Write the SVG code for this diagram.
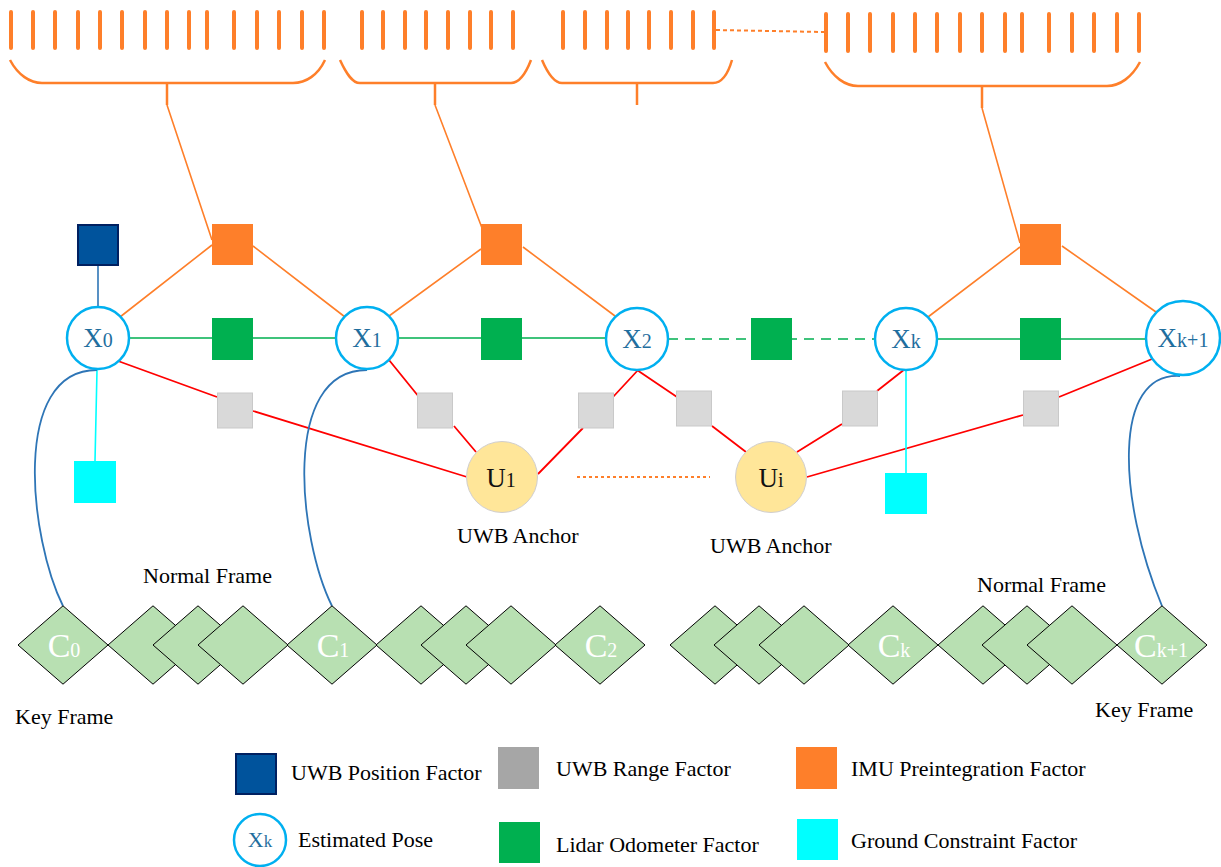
<svg xmlns="http://www.w3.org/2000/svg" width="1221" height="867" viewBox="0 0 1221 867">
<style>
.tick{fill:none;stroke:#FE7F2A;stroke-width:4;stroke-linecap:round}
.brace{fill:none;stroke:#FE7F2A;stroke-width:2.5}
.or{stroke:#FE7F2A;stroke-width:1.6;fill:none}
.rd{stroke:#FF0000;stroke-width:1.8;fill:none}
.gn{stroke:#00B050;stroke-width:1.6;fill:none}
.cy{stroke:#00FFFF;stroke-width:1.6;fill:none}
.bl{fill:none;stroke:#2E75B6;stroke-width:1.8}
.pose circle{fill:#fff;stroke:#00B0F0;stroke-width:2.5}
.pose text{font-family:"Liberation Serif","Times New Roman",serif;font-size:27px;fill:#1F6E9E;text-anchor:middle}
.sub{font-size:20px}
.anchor circle{fill:#FFE699;stroke:#D0CECE;stroke-width:1}
.anchor text{font-family:"Liberation Serif","Times New Roman",serif;font-size:27px;fill:#111;text-anchor:middle}
.imu{fill:#FE7F2A}
.lidar{fill:#00B050}
.range{fill:#D9D9D9;stroke:#C9C9C9;stroke-width:1}
.ground{fill:#00FFFF}
.pos{fill:#00539C;stroke:#002060;stroke-width:2}
.frame polygon{fill:#B8E0B2;stroke:#000;stroke-width:1}
.frame text{font-family:"Liberation Serif","Times New Roman",serif;font-size:34px;fill:#fff;text-anchor:middle}
.lbl{font-family:"Liberation Serif","Times New Roman",serif;font-size:22px;fill:#000}
</style>

<g id="imu-stream">
<path class="tick" d="M11,12V48M33,12V48M55,12V48M78,12V48M100,12V48M122,12V48M145,12V48M167,12V48M189,12V48M207,12V48M234,12V48M257,12V48M279,12V48M302,12V48M324,12V48"/>
<path class="tick" d="M362,12V48M383,12V48M405,12V48M426,12V48M448,12V48M470,12V48M491,12V48M513,12V48"/>
<path class="tick" d="M563,12V48M585,12V48M607,12V48M628,12V48M649,12V48M671,12V48M693,12V48M714,12V48"/>
<path class="tick" d="M826,14V51M848,14V51M870,14V51M893,14V51M915,14V51M937,14V51M960,14V51M982,14V51M1005,14V51M1022,14V51M1049,14V51M1072,14V51M1094,14V51M1117,14V51M1139,14V51"/>
<path d="M716,30L824,32" fill="none" stroke="#FE7F2A" stroke-width="2" stroke-dasharray="4 3"/>
<path class="brace" d="M10,60C18,75 30,83 42,83L293,83C306,83 318,75 325,60M167,83V105"/>
<path class="brace" d="M340,60C346,73 352,83 360,83L511,83C520,83 526,73 531,60M435,83V105"/>
<path class="brace" d="M542,60C548,74 554,83 562,83L713,83C722,83 728,74 732,60M637,83V105"/>
<path class="brace" d="M825,62C833,77 845,86 858,86L1107,86C1120,86 1132,77 1140,62M982,86V108"/>
</g>

<g id="connectors">
<path class="or" d="M167,105L212,240M120,317L212,245M253,246L345,317M435,105L482,228M389,316L481,249M523,247L615,316M928,317L1020,247M982,108L1020,243M1062,246L1156,312"/>
<path class="gn" d="M129,338H336M398,338H606"/>
<path class="gn" d="M668,339H875" stroke-dasharray="10 7"/>
<path class="gn" d="M937,339H1145"/>
<path class="rd" d="M118,361L217,397M253,411L467,477M389,360L419,397M454,426L476,452M538,474L583,428M613,397L639,369M637,370L677,397M712,426L746,452M797,452L842,424M877,391L905,369M807,477L1023,415M1059,397L1157,357"/>
<path d="M577,477H710" fill="none" stroke="#FE7F2A" stroke-width="2" stroke-dasharray="3 3"/>
<path class="cy" d="M97,370L95,461M906,370V473"/>
<path d="M98,265V307" stroke="#2E75B6" stroke-width="1.6"/>
<path class="bl" d="M97,370C10,370 30,540 63,606"/>
<path class="bl" d="M367,370C280,370 299,540 332,606"/>
<path class="bl" d="M1180,376C1112,372 1118,500 1162,606"/>
</g>

<g id="pos-factor"><rect class="pos" x="78" y="225" width="40" height="40"/></g>
<g id="imu-factor-1"><rect class="imu" x="212" y="224" width="41" height="41"/></g>
<g id="imu-factor-2"><rect class="imu" x="481" y="224" width="41" height="41"/></g>
<g id="imu-factor-3"><rect class="imu" x="1020" y="224" width="41" height="41"/></g>
<g id="lidar-factor-1"><rect class="lidar" x="212" y="318" width="41" height="42"/></g>
<g id="lidar-factor-2"><rect class="lidar" x="481" y="318" width="41" height="42"/></g>
<g id="lidar-factor-3"><rect class="lidar" x="751" y="318" width="41" height="42"/></g>
<g id="lidar-factor-4"><rect class="lidar" x="1020" y="318" width="41" height="42"/></g>
<g id="range-factor-1"><rect class="range" x="217.5" y="393" width="35" height="35"/></g>
<g id="range-factor-2"><rect class="range" x="417.5" y="393" width="35" height="35"/></g>
<g id="range-factor-3"><rect class="range" x="578.5" y="393" width="35" height="35"/></g>
<g id="range-factor-4"><rect class="range" x="676.5" y="391" width="35" height="35"/></g>
<g id="range-factor-5"><rect class="range" x="842.5" y="391" width="35" height="35"/></g>
<g id="range-factor-6"><rect class="range" x="1023.5" y="391" width="35" height="35"/></g>
<g id="ground-factor-1"><rect class="ground" x="74" y="461" width="42" height="42"/></g>
<g id="ground-factor-2"><rect class="ground" x="885" y="473" width="42" height="41"/></g>

<g id="pose-x0" class="pose"><circle cx="98" cy="338" r="31"/><text x="98" y="347">X<tspan class="sub">0</tspan></text></g>
<g id="pose-x1" class="pose"><circle cx="367" cy="338" r="31"/><text x="367" y="347">X<tspan class="sub">1</tspan></text></g>
<g id="pose-x2" class="pose"><circle cx="637" cy="339" r="31"/><text x="637" y="348">X<tspan class="sub">2</tspan></text></g>
<g id="pose-xk" class="pose"><circle cx="906" cy="339" r="31"/><text x="906" y="348">X<tspan class="sub">k</tspan></text></g>
<g id="pose-xk1" class="pose"><circle cx="1183" cy="338" r="37"/><text x="1183" y="347">X<tspan class="sub">k+1</tspan></text></g>

<g id="anchor-u1" class="anchor"><circle cx="502" cy="477" r="35.5"/><text x="501" y="487">U<tspan class="sub">1</tspan></text></g>
<g id="anchor-ui" class="anchor"><circle cx="771" cy="477" r="35.5"/><text x="771" y="487">U<tspan class="sub">i</tspan></text></g>

<g id="frames" class="frame">
<g id="frame-c0"><polygon points="18,645 63,605.8 108,645 63,684.2"/><text x="64" y="657">C<tspan class="sub">0</tspan></text></g>
<g id="frame-n1"><polygon points="108,645 153,605.8 198,645 153,684.2"/></g>
<g id="frame-n2"><polygon points="153,645 198,605.8 243,645 198,684.2"/></g>
<g id="frame-n3"><polygon points="198,645 243,605.8 288,645 243,684.2"/></g>
<g id="frame-c1"><polygon points="287,645 332,605.8 377,645 332,684.2"/><text x="333" y="657">C<tspan class="sub">1</tspan></text></g>
<g id="frame-n4"><polygon points="376,645 421,605.8 466,645 421,684.2"/></g>
<g id="frame-n5"><polygon points="421,645 466,605.8 511,645 466,684.2"/></g>
<g id="frame-n6"><polygon points="466,645 511,605.8 556,645 511,684.2"/></g>
<g id="frame-c2"><polygon points="555,645 600,605.8 645,645 600,684.2"/><text x="601" y="657">C<tspan class="sub">2</tspan></text></g>
<g id="frame-n7"><polygon points="670,645 715,605.8 760,645 715,684.2"/></g>
<g id="frame-n8"><polygon points="714,645 759,605.8 804,645 759,684.2"/></g>
<g id="frame-n9"><polygon points="759,645 804,605.8 849,645 804,684.2"/></g>
<g id="frame-ck"><polygon points="848,645 893,605.8 938,645 893,684.2"/><text x="894" y="657">C<tspan class="sub">k</tspan></text></g>
<g id="frame-n10"><polygon points="938,645 983,605.8 1028,645 983,684.2"/></g>
<g id="frame-n11"><polygon points="982,645 1027,605.8 1072,645 1027,684.2"/></g>
<g id="frame-n12"><polygon points="1027,645 1072,605.8 1117,645 1072,684.2"/></g>
<g id="frame-ck1"><polygon points="1117,645 1162,605.8 1207,645 1162,684.2"/><text x="1161" y="657">C<tspan class="sub">k+1</tspan></text></g>
</g>

<g id="labels">
<text class="lbl" x="457" y="543">UWB Anchor</text>
<text class="lbl" x="710" y="553">UWB Anchor</text>
<text class="lbl" x="143" y="583">Normal Frame</text>
<text class="lbl" x="977" y="592">Normal Frame</text>
<text class="lbl" x="15" y="724">Key Frame</text>
<text class="lbl" x="1095" y="717">Key Frame</text>
</g>

<g id="legend">
<g id="legend-pos"><rect class="pos" x="236" y="754" width="40" height="40"/><text class="lbl" x="291" y="780">UWB Position Factor</text></g>
<g id="legend-range"><rect x="498" y="747" width="41" height="42" fill="#A6A6A6"/><text class="lbl" x="556" y="776">UWB Range Factor</text></g>
<g id="legend-imu"><rect class="imu" x="796" y="747" width="41" height="42"/><text class="lbl" x="851" y="776">IMU Preintegration Factor</text></g>
<g id="legend-pose" class="pose"><circle cx="260" cy="840" r="26"/><text x="260" y="847" style="font-size:22px">X<tspan style="font-size:17px">k</tspan></text></g>
<text class="lbl" x="298" y="847">Estimated Pose</text>
<g id="legend-lidar"><rect class="lidar" x="499" y="822" width="41" height="41"/><text class="lbl" x="556" y="852">Lidar Odometer Factor</text></g>
<g id="legend-ground"><rect class="ground" x="797" y="819" width="41" height="41"/><text class="lbl" x="851" y="848">Ground Constraint Factor</text></g>
</g>
</svg>
